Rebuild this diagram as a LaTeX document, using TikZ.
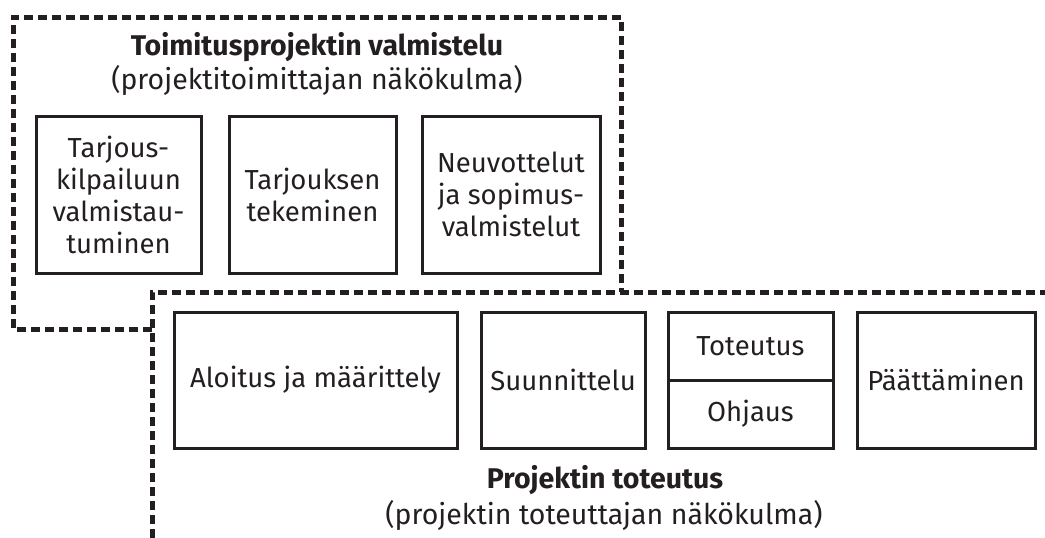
\documentclass[tikz,border=0pt]{standalone}
\usepackage{fontspec}
\setmainfont{Fira Sans}
\usepackage{xcolor}
\definecolor{ink}{HTML}{231F20}

\begin{document}
\begin{tikzpicture}[x=1pt, y=-1pt,
	box/.style = {draw=ink, line width=3pt, align=center, inner sep=0pt,
		font=\fontsize{27.5}{32}\selectfont, text=ink},
	frame/.style = {draw=ink, line width=5pt, dash pattern=on 9pt off 5pt},
	title/.style = {font=\fontsize{28.5}{30}\selectfont\bfseries, text=ink},
	subtitle/.style = {font=\fontsize{28.5}{30}\selectfont, text=ink}]
	\useasboundingbox (0, 0) rectangle (1045, 538);
	% valmistelu (top frame)
	\draw[frame] (152, 329) -- (13, 329) -- (13, 17) -- (621, 17) -- (621, 292);
	\node[title]    (valm)  at (317, 47) {Toimitusprojektin valmistelu};
	\node[subtitle] (valms) at (317, 80) {(projektitoimittajan näkökulma)};
	\node[box, minimum width=165, minimum height=157] (tarjkilp) at (118.5, 194.5)
		{Tarjous-\\kilpailuun\\valmistau-\\tuminen};
	\node[box, minimum width=167, minimum height=157] (tarjtek) at (312.5, 194.5)
		{Tarjouksen\\tekeminen};
	\node[box, minimum width=178, minimum height=157] (neuv) at (511, 194.5)
		{Neuvottelut\\ja sopimus-\\valmistelut};
	% toteutus (bottom frame)
	\draw[frame] (152, 538) -- (152, 292) -- (1045, 292);
	\node[box, minimum width=283, minimum height=136] (aloitus) at (315.5, 380)
		{Aloitus ja määrittely};
	\node[box, minimum width=164, minimum height=136] (suunn) at (563, 380)
		{Suunnittelu};
	\node[box, minimum width=165, minimum height=68] (tot) at (750.5, 346)
		{Toteutus};
	\node[box, minimum width=165, minimum height=68] (ohj) at (750.5, 414)
		{Ohjaus};
	\node[box, minimum width=178, minimum height=136] (paat) at (946, 380)
		{Päättäminen};
	\node[title]    (proj)  at (605, 480) {Projektin toteutus};
	\node[subtitle] (projs) at (604, 515) {(projektin toteuttajan näkökulma)};
\end{tikzpicture}
\end{document}
